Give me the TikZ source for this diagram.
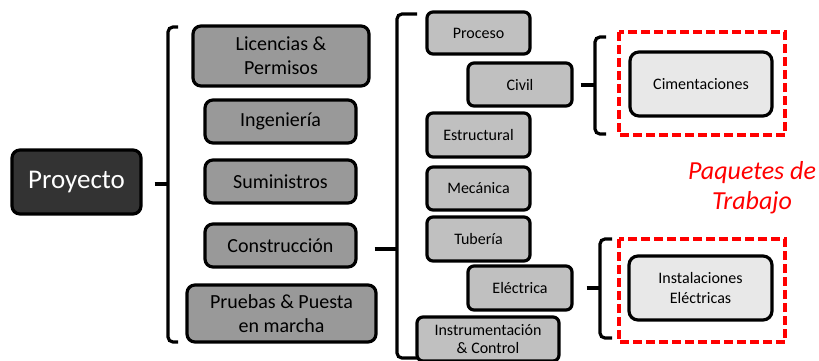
\documentclass[tikz,border=0pt]{standalone}
\usepackage{fontspec}
\setmainfont{Carlito}
\definecolor{darkbox}{HTML}{333333}
\definecolor{midbox}{HTML}{999999}
\definecolor{lightbox}{HTML}{C0C0C0}
\definecolor{palebox}{HTML}{E8E8E8}
\definecolor{pkgred}{HTML}{FF0000}
\begin{document}
\begin{tikzpicture}[x=1pt,y=-1pt,
  basebox/.style={draw=black, line width=3.2pt, rounded corners=8pt, inner sep=0pt, align=center},
  topbox/.style={basebox, fill=darkbox, text=white, font=\fontsize{27}{30}\selectfont},
  mainbox/.style={basebox, fill=midbox, font=\fontsize{20}{24}\selectfont},
  subbox/.style={basebox, fill=lightbox, rounded corners=6pt, font=\fontsize{16}{19}\selectfont, minimum height=43},
  pkgbox/.style={basebox, fill=palebox, rounded corners=9pt, font=\fontsize{16}{20}\selectfont, minimum width=142, minimum height=64},
  pkgframe/.style={draw=pkgred, line width=3.4pt, dash pattern=on 9pt off 4pt},
  brk/.style={draw=black, line width=3.2pt, rounded corners=5pt},
  tick/.style={draw=black, line width=3.2pt}
]
\useasboundingbox (0,0) rectangle (819,360);

% top level
\node[topbox, minimum width=129, minimum height=64] (P) at (76.5,182) {Proyecto};

% second level
\node[mainbox, minimum width=176, minimum height=60] (lic) at (281,56) {Licencias \&\\Permisos};
\node[mainbox, minimum width=151, minimum height=43] (ing) at (280.5,121.5) {Ingeniería};
\node[mainbox, minimum width=151, minimum height=43] (sum) at (280.5,181.5) {Suministros};
\node[mainbox, minimum width=151, minimum height=43] (con) at (280.5,245.5) {Construcción};
\node[mainbox, minimum width=189, minimum height=57] (pru) at (281.5,313.5) {Pruebas \& Puesta\\en marcha};

% third level
\node[subbox, minimum width=103, minimum height=42] (pro) at (478.5,33) {Proceso};
\node[subbox, minimum width=104] (civ) at (520,84.5) {Civil};
\node[subbox, minimum width=103, minimum height=44] (est) at (478.5,135) {Estructural};
\node[subbox, minimum width=103] (mec) at (478.5,188.5) {Mecánica};
\node[subbox, minimum width=103, minimum height=44] (tub) at (478.5,239) {Tubería};
\node[subbox, minimum width=104, minimum height=44] (ele) at (520,288) {Eléctrica};
\node[subbox, minimum width=142, minimum height=44, font=\fontsize{16}{18}\selectfont] (ins) at (488,339) {Instrumentación\\\& Control};

% work packages
\node[pkgbox] (cim) at (701,84) {Cimentaciones};
\node[pkgbox, minimum width=143] (inst) at (700.5,288) {Instalaciones\\Eléctricas};
\draw[pkgframe] (619,32) rectangle (785,135);
\draw[pkgframe] (619,239) rectangle (785,342);
\node[text=pkgred, font=\fontsize{26}{30}\selectfont\itshape, align=center] (lbl) at (752,188) {Paquetes de\\Trabajo};

% bracket: Proyecto -> level 2
\coordinate (b1) at (168,184);
\draw[tick] ([xshift=12pt]P.east |- b1) -- (b1);
\draw[brk] (178,27) -- (168,27) -- (168,342) -- (178,342);

% bracket: Construccion -> disciplines
\coordinate (b2) at (397,249);
\draw[tick] ([xshift=17pt]con.east |- b2) -- (b2);
\draw[brk] (417,14) -- (397,14) -- (397,358) -- (417,358);

% bracket: Civil -> Cimentaciones
\coordinate (b3) at (595,85);
\draw[tick] ([xshift=7pt]civ.east |- b3) -- (b3);
\draw[brk] (606,37) -- (595,37) -- (595,134) -- (606,134);

% bracket: Electrica -> Instalaciones
\coordinate (b4) at (600,288);
\draw[tick] ([xshift=13pt]ele.east |- b4) -- (b4);
\draw[brk] (612,239) -- (600,239) -- (600,338) -- (612,338);
\end{tikzpicture}
\end{document}
